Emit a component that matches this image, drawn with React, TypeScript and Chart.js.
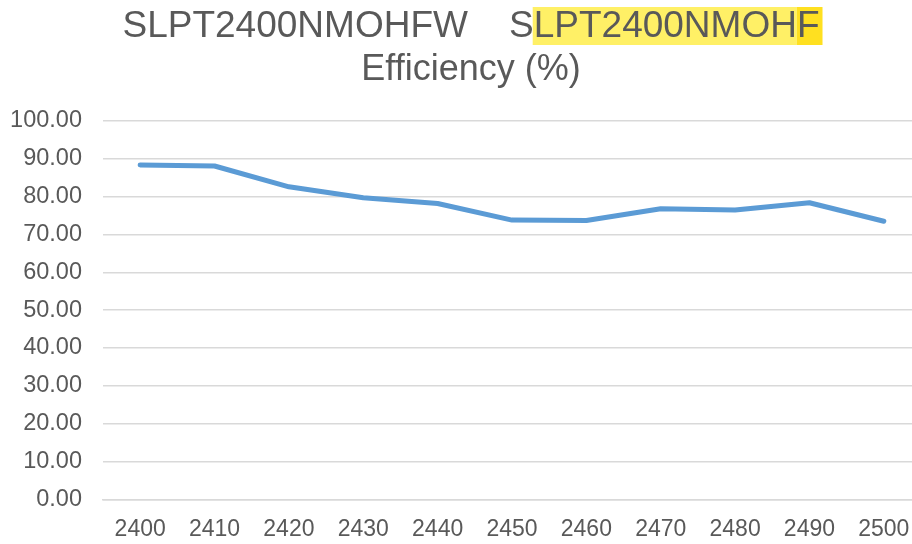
import React, { useEffect, useRef } from "react";
import { Chart, registerables } from "chart.js";

Chart.register(...registerables);

// ---- data ----
const categories = ["2400", "2410", "2420", "2430", "2440", "2450", "2460", "2470", "2480", "2490", "2500"];
const efficiency = [88.4, 88.1, 82.6, 79.7, 78.2, 73.8, 73.7, 76.8, 76.5, 78.4, 73.5];
const yMin = 0;
const yMax = 100;
const yStep = 10;
const titleLine1 = "SLPT2400NMOHFW    SLPT2400NMOHF";
const titleHighlight = "LPT2400NMOHF";
const titleLine2 = "Efficiency (%)";

const FONT = '"Liberation Sans", Arial, sans-serif';
const TEXT = "#595959";

const titlePlugin = {
  id: "customTitle",
  afterDraw(chart: any) {
    const ctx = chart.ctx as CanvasRenderingContext2D;
    const cx = 471;
    ctx.save();
    // line 1
    ctx.font = `37px ${FONT}`;
    ctx.textBaseline = "alphabetic";
    ctx.textAlign = "left";
    const w = ctx.measureText(titleLine1).width;
    const x0 = cx - w / 2;
    const hlIndex = titleLine1.lastIndexOf(titleHighlight);
    const pre = ctx.measureText(titleLine1.slice(0, hlIndex)).width;
    const withoutLast = ctx.measureText(titleLine1.slice(0, titleLine1.length - 1)).width;
    const hlTop = 7;
    const hlBottom = 45;
    ctx.fillStyle = "#FFF066";
    ctx.fillRect(x0 + pre - 1, hlTop, withoutLast - pre + 1, hlBottom - hlTop);
    ctx.fillStyle = "#FFE020";
    ctx.fillRect(x0 + withoutLast, hlTop, w - withoutLast + 3, hlBottom - hlTop);
    ctx.fillStyle = TEXT;
    ctx.fillText(titleLine1, x0, 37);
    // line 2
    ctx.font = `36px ${FONT}`;
    ctx.textAlign = "center";
    ctx.fillText(titleLine2, cx, 80);
    ctx.restore();
  },
};

export default function App() {
  const ref = useRef<HTMLCanvasElement | null>(null);

  useEffect(() => {
    if (!ref.current) return;
    const chart = new Chart(ref.current, {
      type: "line",
      data: {
        labels: categories,
        datasets: [
          {
            label: "Efficiency (%)",
            data: efficiency,
            borderColor: "#5B9BD5",
            backgroundColor: "#5B9BD5",
            borderWidth: 5,
            borderCapStyle: "round",
            borderJoinStyle: "round",
            pointRadius: 0,
            pointHoverRadius: 0,
            tension: 0,
            fill: false,
          },
        ],
      },
      options: {
        responsive: false,
        animation: false,
        devicePixelRatio: 1,
        layout: { padding: { top: 121, left: 8, right: 9, bottom: 0 } },
        plugins: {
          legend: { display: false },
          title: { display: false },
          tooltip: { enabled: false },
        },
        scales: {
          x: {
            type: "category",
            offset: true,
            grid: { display: false, drawTicks: false, offset: true },
            border: { display: true, color: "#D9D9D9", width: 1.5 },
            ticks: {
              color: TEXT,
              font: { family: FONT, size: 23 },
              padding: 17,
              maxRotation: 0,
              autoSkip: false,
            },
            afterFit(scale: any) {
              scale.height = 44.7;
            },
          },
          y: {
            min: yMin,
            max: yMax,
            grid: { color: "#D9D9D9", lineWidth: 1.5, drawTicks: false },
            border: { display: false },
            ticks: {
              stepSize: yStep,
              color: TEXT,
              font: { family: FONT, size: 23.5 },
              padding: 21,
              callback: (v: any) => Number(v).toFixed(2),
            },
            afterFit(scale: any) {
              scale.width = 95;
            },
          },
        },
      },
      plugins: [titlePlugin],
    });
    return () => chart.destroy();
  }, []);

  return (
    <div
      style={{
        position: "fixed",
        left: 0,
        top: 0,
        width: 912,
        height: 544,
        overflow: "hidden",
        background: "#ffffff",
      }}
    >
      <canvas ref={ref} width={930} height={544} style={{ width: 930, height: 544, display: "block" }} />
    </div>
  );
}
